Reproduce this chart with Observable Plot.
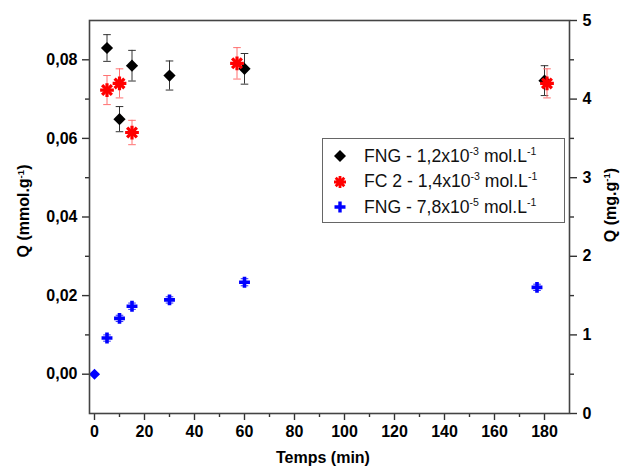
<!DOCTYPE html>
<html>
<head>
<meta charset="utf-8">
<script src="https://cdn.jsdelivr.net/npm/d3@7"></script>
<script src="https://cdn.jsdelivr.net/npm/@observablehq/plot@0.6"></script>
<style>
  body { margin: 0; background: white; }
  #wrap { position: relative; width: 623px; height: 466px; font-family: 'Liberation Sans', Arial, sans-serif; }
  #wrap svg.plot { position: absolute; left: 0; top: 0; }
  .ttl { position: absolute; font-weight: bold; font-size: 16px; color: #000; white-space: nowrap; transform-origin: center center; }
  sup { font-size: 0.6em; line-height: 0; vertical-align: 0.62em; }
  #legend { position: absolute; left: 322px; top: 138px; width: 243px; height: 85px; border: 1px solid #666; background: white; box-sizing: border-box; }
  .row { position: absolute; left: 0; height: 24px; display: flex; align-items: center; font-size: 17.6px; color: #111; white-space: nowrap; }
  .row svg { width: 20px; height: 20px; margin-left: 7px; margin-right: 14px; }
</style>
</head>
<body>
<div id="wrap"></div>
<script>
// FNG - 1,2x10-3 mol/L (black diamonds)
const tBlack = [5, 10, 15, 30, 60, 180];
const qBlack = [0.0830, 0.0649, 0.0785, 0.0760, 0.0777, 0.0747];
const eBlack = [0.0034, 0.0032, 0.0039, 0.0037, 0.0039, 0.0038];
// FC 2 - 1,4x10-3 mol/L (red stars)
const tRed = [5, 10, 15, 57, 181];
const qRed = [0.0723, 0.0740, 0.0615, 0.0791, 0.0740];
const eRed = [0.0037, 0.0037, 0.0031, 0.0040, 0.0037];
// FNG - 7,8x10-5 mol/L (blue crosses)
const tBlue = [0, 5, 10, 15, 30, 60, 177];
const qBlue = [0.0000, 0.0092, 0.0142, 0.0173, 0.0189, 0.0234, 0.0221];
const eBlue = [0.0000, 0.0008, 0.0008, 0.0008, 0.0008, 0.0009, 0.0008];

// Axis ticks
const xMajor = [0, 20, 40, 60, 80, 100, 120, 140, 160, 180];
const xMinor = [10, 30, 50, 70, 90, 110, 130, 150, 170];
const yMajor = [0, 0.02, 0.04, 0.06, 0.08];
const yMinor = [0.01, 0.03, 0.05, 0.07];
const rMajor = [0, 1, 2, 3, 4, 5];
const rMinor = [0.5, 1.5, 2.5, 3.5, 4.5];

const legendLabels = [
  "FNG - 1,2x10<sup>-3</sup> mol.L<sup>-1</sup>",
  "FC 2 - 1,4x10<sup>-3</sup> mol.L<sup>-1</sup>",
  "FNG - 7,8x10<sup>-5</sup> mol.L<sup>-1</sup>"
];

const mk = (t, q, e) => t.map((d, i) => ({t: d, q: q[i], lo: q[i] - e[i], hi: q[i] + e[i]}));
const black = mk(tBlack, qBlack, eBlack);
const red = mk(tRed, qRed, eRed);
const blue = mk(tBlue, qBlue, eBlue);

// mg.g-1 axis maps 0..5 onto the mmol.g-1 range -0.01..0.09
const toLeft = v => v / 50 - 0.01;
const toRight = d => Math.round((d + 0.01) * 50 * 10) / 10;

const cap = { draw(ctx, size) { const w = Math.sqrt(size / Math.PI); ctx.moveTo(-w, 0); ctx.lineTo(w, 0); } };

function errBars(data, color) {
  return [
    Plot.ruleX(data.filter(d => d.hi > d.lo), {x: "t", y1: "lo", y2: "hi", stroke: color, strokeWidth: 1}),
    Plot.dot(data.filter(d => d.hi > d.lo), {x: "t", y: "hi", symbol: cap, r: 3.8, stroke: color, fill: "none", strokeWidth: 1}),
    Plot.dot(data.filter(d => d.hi > d.lo), {x: "t", y: "lo", symbol: cap, r: 3.8, stroke: color, fill: "none", strokeWidth: 1})
  ];
}

const fmt = d => d.toFixed(2).replace(".", ",");
const axisStyle = {fontSize: 16, fontWeight: "bold", stroke: "#333", strokeWidth: 1.4, label: null};

const chart = Plot.plot({
  width: 623,
  height: 466,
  marginLeft: 89,
  marginRight: 54,
  marginTop: 20,
  marginBottom: 53,
  style: {fontFamily: "'Liberation Sans', Arial, sans-serif", color: "black", background: "transparent"},
  x: {domain: [-2, 190]},
  y: {domain: [-0.01, 0.09]},
  marks: [
    Plot.axisX({...axisStyle, ticks: xMajor, tickSize: 7, tickPadding: 5, tickFormat: d => String(d)}),
    Plot.axisX({...axisStyle, ticks: xMinor, tickSize: 4, tickFormat: () => ""}),
    Plot.axisY({...axisStyle, anchor: "left", ticks: yMajor, tickSize: 7, tickPadding: 5, tickFormat: fmt}),
    Plot.axisY({...axisStyle, anchor: "left", ticks: yMinor, tickSize: 4, tickFormat: () => ""}),
    Plot.axisY({...axisStyle, anchor: "right", ticks: rMajor.map(toLeft), tickSize: 7, tickPadding: 6, tickFormat: d => String(toRight(d))}),
    Plot.axisY({...axisStyle, anchor: "right", ticks: rMinor.map(toLeft), tickSize: 4, tickFormat: () => ""}),
    ...errBars(black, "#333"),
    Plot.dot(black, {x: "t", y: "q", symbol: "diamond2", r: 5.5, fill: "black", stroke: "none"}),
    ...errBars(red, "#ff7070"),
    Plot.dot(red, {x: "t", y: "q", symbol: "plus", r: 4.5, stroke: "#ff0000", strokeWidth: 3.2, fill: "none"}),
    Plot.dot(red, {x: "t", y: "q", symbol: "times", r: 4.5, stroke: "#ff0000", strokeWidth: 3.2, fill: "none"}),
    ...errBars(blue, "#3030ff"),
    Plot.dot(blue.filter(d => d.t !== 0), {x: "t", y: "q", symbol: "plus", r: 3.6, stroke: "#0000ff", strokeWidth: 3.6, fill: "none"}),
    Plot.dot(blue.filter(d => d.t === 0), {x: "t", y: "q", symbol: "diamond2", r: 5.0, fill: "#0000ff", stroke: "none"}),
    Plot.frame({stroke: "#444", strokeWidth: 1.6})
  ]
});
chart.classList.add("plot");

const wrap = document.getElementById("wrap");
wrap.appendChild(chart);

function title(html, cx, cy) {
  const el = document.createElement("div");
  el.className = "ttl";
  el.innerHTML = html;
  wrap.appendChild(el);
  const w = el.offsetWidth, h = el.offsetHeight;
  el.style.left = (cx - w / 2) + "px";
  el.style.top = (cy - h / 2) + "px";
  return el;
}
const lt = title("Q (mmol.g<sup>-1</sup>)", 24, 211); lt.style.transform = "rotate(-90deg)";
const rt = title("Q (mg.g<sup>-1</sup>)", 611, 205); rt.style.transform = "rotate(-90deg)";
title("Temps (min)", 323, 458);

// Legend
const icons = [
  '<svg viewBox="-10 -10 20 20"><path d="M0,-6L6,0L0,6L-6,0Z" fill="black"/></svg>',
  '<svg viewBox="-10 -10 20 20"><g stroke="#ff0000" stroke-width="2.8"><path d="M0,-6V6M-6,0H6M-4.3,-4.3L4.3,4.3M-4.3,4.3L4.3,-4.3"/></g></svg>',
  '<svg viewBox="-10 -10 20 20"><g stroke="#0000ff" stroke-width="3.4"><path d="M0,-5.5V5.5M-5.5,0H5.5"/></g></svg>'
];
const lg = document.createElement("div");
lg.id = "legend";
legendLabels.forEach((lab, i) => {
  const r = document.createElement("div");
  r.className = "row";
  r.style.top = (5 + i * 25.5) + "px";
  r.innerHTML = icons[i] + '<span>' + lab + '</span>';
  lg.appendChild(r);
});
wrap.appendChild(lg);
</script>
</body>
</html>
